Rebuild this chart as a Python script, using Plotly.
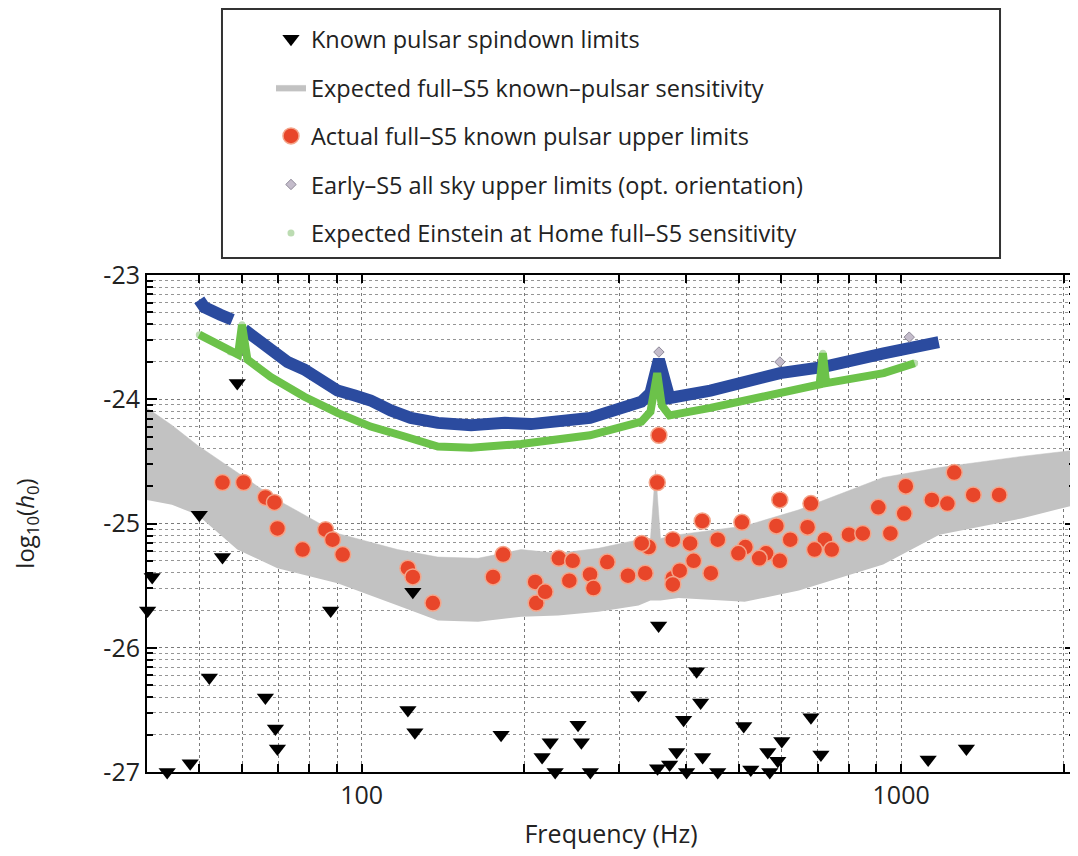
import numpy as np
import plotly.graph_objects as go

# ---------------- data ----------------
# Known pulsar spindown limits (frequency Hz, log10 h0)
tri_f = [58.8, 50.0, 55.2, 40.9, 40.1, 87.6, 124.4, 52.2, 66.3, 69.2, 69.8, 43.6, 48.1,
         121.8, 125.5, 181.3, 216, 223.6, 228.4, 251.8, 255.4, 265.4, 355.1, 326, 417.7,
         424.9, 395.1, 510.7, 680.4, 600.8, 565.9, 590.6, 710, 1122, 1321, 383.5, 428.5,
         353.5, 372.2, 400.2, 457, 526.3, 570.8]
tri_y = [-23.87, -24.93, -25.27, -25.43, -25.70, -25.70, -25.55, -26.24, -26.40, -26.65, -26.81,
         -27.0, -26.93, -26.50, -26.68, -26.70, -26.88, -26.76, -27.0, -26.62, -26.76, -27.0,
         -25.82, -26.38, -26.19, -26.44, -26.58, -26.63, -26.56, -26.75, -26.84, -26.91, -26.86,
         -26.90, -26.81, -26.84, -26.88, -26.97, -26.94, -27.0, -27.0, -26.98, -27.0]

# Expected full-S5 known-pulsar sensitivity band (upper / lower edges)
gray_f = [40, 44.5, 49.6, 58.8, 69.8, 90.2, 116.6, 138.4, 164.3, 197.5, 231.3, 274.6, 326,
          343, 350.5, 358, 386.8, 512.9, 646.3, 926, 1177, 1671, 2100]
gray_hi = [-24.07, -24.21, -24.37, -24.59, -24.81, -25.08, -25.21, -25.27, -25.28, -25.21, -25.24,
           -25.20, -25.13, -25.12, -24.57, -25.12, -25.09, -25.02, -24.89, -24.63, -24.55, -24.46,
           -24.41]
gray_lo = [-24.81, -24.85, -24.93, -25.21, -25.36, -25.48, -25.66, -25.78, -25.79, -25.75, -25.74,
           -25.71, -25.66, -25.62, -25.62, -25.62, -25.60, -25.63, -25.54, -25.33, -25.09, -24.96,
           -24.85]

# Actual full-S5 known pulsar upper limits
red_f = [55.2, 60.4, 66.3, 68.9, 69.8, 77.7, 85.7, 88.3, 92.2, 121.8, 124.4, 135.5, 182.9, 175.2,
         209.7, 210.6, 353.1, 355.6, 595.7, 680.4, 1020, 1254, 1140, 1218, 1360, 1519, 907, 1013,
         955, 427.8, 506.7, 587.1, 670.6, 622.9, 722.1, 800.4, 848.9, 340.4, 330.4, 377.3, 406.2,
         457.1, 514.3, 561.9, 595.7, 690.9, 743.5, 232.0, 246.1, 285.2, 265.0, 242.6, 311.6, 335.4,
         377.3, 388.6, 443.8, 412.3, 499.2, 218.8, 268.9, 377.3, 545.5]
red_y = [-24.67, -24.67, -24.79, -24.83, -25.04, -25.21, -25.05, -25.13, -25.25, -25.36, -25.43,
         -25.64, -25.25, -25.43, -25.47, -25.64, -24.67, -24.29, -24.81, -24.84, -24.70, -24.59,
         -24.81, -24.84, -24.77, -24.77, -24.87, -24.92, -25.08, -24.98, -24.99, -25.02, -25.03,
         -25.13, -25.13, -25.09, -25.08, -25.19, -25.16, -25.13, -25.16, -25.13, -25.19, -25.24,
         -25.30, -25.21, -25.21, -25.28, -25.30, -25.31, -25.41, -25.46, -25.42, -25.40, -25.44,
         -25.38, -25.40, -25.30, -25.24, -25.55, -25.52, -25.49, -25.28]

# Early-S5 all sky upper limits (band) and isolated outliers
blue_f = [50, 51.1, 54.7, 57.6, None, 60.6, 64.1, 67.8, 72.9, 78.3, 83.9, 90.2, 97.1, 103.9, 113.2,
          123.3, 138.4, 159.5, 184.3, 206, 265, 330, 343, 355.6, 372, 443, 596, 719, 928, 1174]
blue_y = [-23.20, -23.26, -23.32, -23.36, None, -23.44, -23.52, -23.59, -23.70, -23.76, -23.85,
          -23.93, -23.97, -24.01, -24.09, -24.15, -24.19, -24.21, -24.19, -24.20, -24.15, -24.02,
          -23.95, -23.68, -23.99, -23.93, -23.79, -23.74, -23.63, -23.54]
early_f = [355.6, 596, 1035]
early_y = [-23.62, -23.70, -23.50]

# Expected Einstein at Home full-S5 sensitivity
green_f = [50, 57.1, 59, 60, 61.4, 67.8, 78.3, 90.2, 103.9, 120.2, 138.4, 159.5, 197.5, 265, 330,
           343, 353, 360, 372, 443, 596, 706, 716, 726, 928, 1059]
green_y = [-23.48, -23.62, -23.64, -23.40, -23.68, -23.82, -23.98, -24.11, -24.22, -24.30, -24.38,
           -24.39, -24.36, -24.29, -24.18, -24.10, -23.79, -24.05, -24.13, -24.07, -23.95, -23.88,
           -23.63, -23.87, -23.79, -23.71]

x_ticks = [40, 50, 60, 70, 80, 90, 100, 200, 300, 400, 500, 600, 700, 800, 900, 1000, 2000]
x_tick_text = ["", "", "", "", "", "", "100", "", "", "", "", "", "", "", "", "1000", ""]
y_major = [-27, -26, -25, -24, -23]
y_major_text = ["-27", "-26", "-25", "-24", "-23"]
y_minor = [n + np.log10(k) for n in range(-27, -23) for k in range(2, 10)]

# ---------------- figure ----------------
fig = go.Figure()

fig.add_trace(go.Scatter(x=gray_f, y=gray_lo, mode="lines", line=dict(width=0, color="#c2c2c2"),
                         showlegend=False, legendgroup="sens", hoverinfo="skip"))
fig.add_trace(go.Scatter(x=gray_f, y=gray_hi, mode="lines", line=dict(width=0.5, color="#c2c2c2"),
                         fill="tonexty", fillcolor="#c2c2c2",
                         name="Expected full–S5 known–pulsar sensitivity",
                         legendgroup="sens", legendrank=2))

fig.add_trace(go.Scatter(x=green_f, y=green_y, mode="markers",
                         marker=dict(size=7, color="#bcdcb2"),
                         name="Expected Einstein at Home full–S5 sensitivity",
                         legendgroup="eah", legendrank=5))
fig.add_trace(go.Scatter(x=blue_f, y=blue_y, mode="lines", line=dict(width=12, color="#2b4b9f"),
                         showlegend=False, legendgroup="early", connectgaps=False))
fig.add_trace(go.Scatter(x=green_f, y=green_y, mode="lines", line=dict(width=8, color="#6cc24a"),
                         showlegend=False, legendgroup="eah"))
fig.add_trace(go.Scatter(x=early_f, y=early_y, mode="markers",
                         marker=dict(symbol="diamond", size=8, color="#c4bccb",
                                     line=dict(color="#8f8a99", width=1)),
                         name="Early–S5 all sky upper limits (opt. orientation)",
                         legendgroup="early", legendrank=4))
fig.add_trace(go.Scatter(x=red_f, y=red_y, mode="markers",
                         marker=dict(size=16, color="#e8462a", line=dict(color="#f4a58a", width=1.5)),
                         name="Actual full–S5 known pulsar upper limits",
                         legendgroup="actual", legendrank=3))
fig.add_trace(go.Scatter(x=tri_f, y=tri_y, mode="markers",
                         marker=dict(symbol="triangle-down", size=15, color="black"),
                         name="Known pulsar spindown limits",
                         legendgroup="spin", legendrank=1, cliponaxis=False))

fig.update_layout(
    width=1070, height=848,
    margin=dict(l=139, r=3, t=267, b=84, autoexpand=False),
    paper_bgcolor="white", plot_bgcolor="white",
    font=dict(family="Open Sans", size=20, color="#222"),
    showlegend=True,
    legend=dict(x=0.1336, y=1.519, xanchor="left", yanchor="top", font=dict(size=23.5),
                bgcolor="rgba(0,0,0,0)", borderwidth=0, traceorder="grouped",
                tracegroupgap=15),
    shapes=[dict(type="rect", xref="paper", yref="paper", x0=0.0808, x1=0.9192,
                 y0=1.0342, y1=1.5352, line=dict(color="#333", width=2))],
)

fig.update_xaxes(
    type="log", range=[np.log10(40), np.log10(2100)], automargin=False,
    tickmode="array", tickvals=x_ticks, ticktext=x_tick_text,
    ticks="inside", ticklen=8, tickwidth=2, tickcolor="black",
    showline=True, linecolor="black", linewidth=2, mirror="ticks",
    showgrid=True, gridcolor="#7a7a7a", griddash="dot", gridwidth=1,
    tickfont=dict(size=25),
    title=dict(text="Frequency (Hz)", font=dict(size=25), standoff=15),
    zeroline=False,
)
fig.update_yaxes(
    range=[-27, -23], automargin=False, tickvals=y_major, ticktext=y_major_text,
    ticks="inside", ticklen=10, tickwidth=2, tickcolor="black",
    showline=True, linecolor="black", linewidth=2, mirror="ticks",
    showgrid=True, gridcolor="#7a7a7a", griddash="dot", gridwidth=1,
    tickfont=dict(size=25),
    title=dict(text="log<sub>10</sub>(<i>h</i><sub>0</sub>)", font=dict(size=24), standoff=62),
    minor=dict(tickvals=y_minor, ticks="inside", ticklen=6, tickwidth=1.5, tickcolor="black",
               showgrid=True, gridcolor="#959595", griddash="dot", gridwidth=1),
    zeroline=False,
)

fig.write_html("out.html")
